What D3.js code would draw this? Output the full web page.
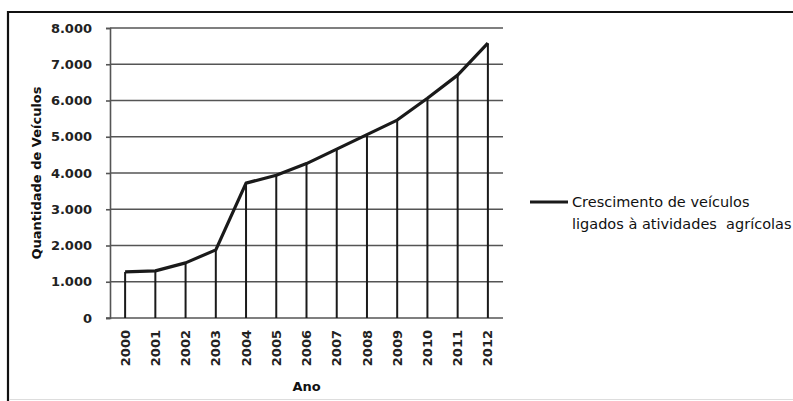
<!DOCTYPE html>
<html>
<head>
<meta charset="utf-8">
<script src="https://cdn.jsdelivr.net/npm/d3@7"></script>
<style>
  body { margin: 0; background: #fff; }
  svg { display: block; }
  .tick text { font-family: "DejaVu Sans", sans-serif; font-weight: bold; }
</style>
</head>
<body>
<svg id="chart" width="793" height="401"></svg>
<script>
// values
var years = ["2000","2001","2002","2003","2004","2005","2006","2007","2008","2009","2010","2011","2012"];
var veiculos = [1270, 1300, 1520, 1880, 3720, 3940, 4260, 4660, 5060, 5460, 6060, 6700, 7580];
var yTicks = [0, 1000, 2000, 3000, 4000, 5000, 6000, 7000, 8000];
var legendLines = ["Crescimento de veículos", "ligados à atividades  agrícolas"];

var svg = d3.select("#chart");
var plot = {left: 110, right: 503, top: 28, bottom: 318};

// outer frame like the scanned figure
svg.append("line").attr("x1", 8).attr("x2", 793).attr("y1", 12).attr("y2", 12)
  .attr("stroke", "#111").attr("stroke-width", 2.2);
svg.append("line").attr("x1", 8).attr("x2", 8).attr("y1", 11).attr("y2", 401)
  .attr("stroke", "#111").attr("stroke-width", 2.2);
svg.append("line").attr("x1", 9).attr("x2", 793).attr("y1", 399.5).attr("y2", 399.5)
  .attr("stroke", "#ddd").attr("stroke-width", 1);

var x = d3.scaleBand().domain(years).range([plot.left, plot.right]);
var y = d3.scaleLinear().domain([0, 8000]).range([plot.bottom, plot.top]);
var fmt = d => d === 0 ? "0" : d3.format(",")(d).replace(/,/g, ".");

// horizontal gridlines
svg.append("g")
  .selectAll("line")
  .data(yTicks.filter(d => d > 0))
  .enter().append("line")
  .attr("x1", plot.left).attr("x2", plot.right)
  .attr("y1", d => y(d)).attr("y2", d => y(d))
  .attr("stroke", "#555").attr("stroke-width", 1.6);

// y axis
var yAxis = svg.append("g")
  .attr("transform", "translate(" + plot.left + ",0)")
  .call(d3.axisLeft(y).tickValues(yTicks).tickFormat(fmt).tickSize(4).tickPadding(14));
yAxis.select(".domain").attr("stroke", "#555").attr("stroke-width", 1.6);
yAxis.selectAll(".tick line").attr("stroke", "#555").attr("stroke-width", 1.6);
yAxis.selectAll(".tick text").attr("font-size", 13).attr("fill", "#222");

// x axis
var xAxis = svg.append("g")
  .attr("transform", "translate(0," + plot.bottom + ")")
  .call(d3.axisBottom(x).tickSize(0).tickPadding(0));
xAxis.select(".domain").attr("d", "M" + (plot.left - 4) + ",0H" + plot.right)
  .attr("stroke", "#555").attr("stroke-width", 1.6);
xAxis.selectAll(".tick text")
  .attr("font-size", 13).attr("fill", "#222")
  .attr("transform", "rotate(-90)")
  .attr("text-anchor", "end")
  .attr("x", -12).attr("y", 0).attr("dy", "0.35em");

// drop lines from each point to the axis
svg.append("g")
  .selectAll("line")
  .data(veiculos)
  .enter().append("line")
  .attr("x1", (d, i) => x(years[i]) + x.bandwidth() / 2)
  .attr("x2", (d, i) => x(years[i]) + x.bandwidth() / 2)
  .attr("y1", d => y(d)).attr("y2", plot.bottom)
  .attr("stroke", "#1a1a1a").attr("stroke-width", 2);

// series line
var line = d3.line()
  .x((d, i) => x(years[i]) + x.bandwidth() / 2)
  .y(d => y(d));
svg.append("path")
  .datum(veiculos)
  .attr("d", line)
  .attr("fill", "none")
  .attr("stroke", "#1a1a1a")
  .attr("stroke-width", 3.2)
  .attr("stroke-linejoin", "round");

// axis titles
svg.append("text")
  .attr("x", (plot.left + plot.right) / 2).attr("y", 391)
  .attr("text-anchor", "middle")
  .attr("font-family", "DejaVu Sans, sans-serif").attr("font-weight", "bold")
  .attr("font-size", 13).attr("fill", "#111")
  .text("Ano");
svg.append("text")
  .attr("transform", "translate(41," + ((plot.top + plot.bottom) / 2) + ") rotate(-90)")
  .attr("text-anchor", "middle")
  .attr("font-family", "DejaVu Sans, sans-serif").attr("font-weight", "bold")
  .attr("font-size", 13).attr("fill", "#111")
  .text("Quantidade de Veículos");

// legend
var legend = svg.append("g").attr("transform", "translate(530,202)");
legend.append("line").attr("x1", 0).attr("x2", 38).attr("y1", 0).attr("y2", 0)
  .attr("stroke", "#1a1a1a").attr("stroke-width", 3.2);
legend.selectAll("text")
  .data(legendLines)
  .enter().append("text")
  .attr("x", 42).attr("y", (d, i) => 5 + i * 22)
  .attr("font-family", "DejaVu Sans, sans-serif")
  .attr("font-size", 14.5).attr("fill", "#111")
  .style("white-space", "pre")
  .text(d => d);
</script>
</body>
</html>
